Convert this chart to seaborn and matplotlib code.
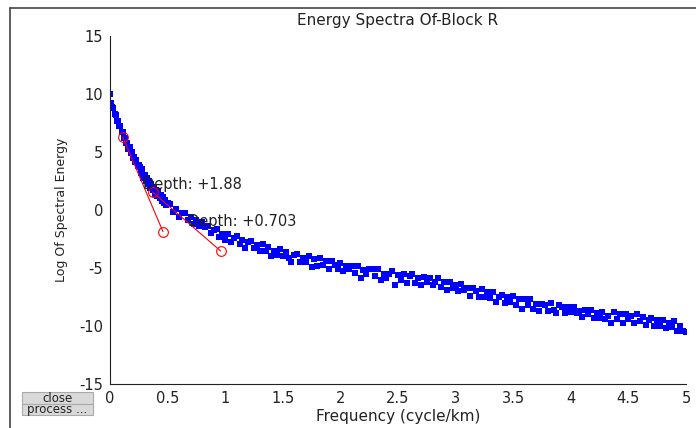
import numpy as np
import pandas as pd
import matplotlib
matplotlib.use("Agg")
import matplotlib.pyplot as plt
from matplotlib.patches import Rectangle
from matplotlib.lines import Line2D
import seaborn as sns

# spectrum samples (steep part, step 0.01)
near_freq = np.linspace(0, 0.5, 51)
near_energy = [10.0, 9.2, 8.9, 8.8, 8.3, 8.2, 7.7, 7.7, 7.2, 7.2,
               6.7, 6.7, 6.2, 6.2, 5.8, 5.8, 5.3, 5.4, 4.9, 5.0,
               4.5, 4.6, 4.1, 4.3, 3.8, 3.9, 3.7, 3.2, 3.5, 2.8,
               3.0, 2.5, 2.8, 2.2, 2.5, 1.9, 2.2, 1.7, 2.0, 1.4,
               1.7, 1.2, 1.6, 1.0, 1.3, 0.8, 1.1, 0.6, 0.9, 0.4, 0.6]

# flatter part, step 0.025
far_freq = np.linspace(0.525, 5.0, 180)
far_energy = [0.5, -0.2, 0.1, -0.6, -0.3, -0.3, -0.9, -0.6, -1.2, -0.9,
              -1.4, -1.0, -1.5, -1.4, -2.0, -1.7, -1.6, -2.3, -2.1, -2.6,
              -2.1, -2.8, -2.4, -2.2, -2.9, -2.6, -3.3, -2.8, -2.7, -3.3,
              -3.0, -3.5, -2.9, -3.5, -3.2, -4.0, -3.5, -3.9, -3.4, -4.0,
              -3.6, -4.1, -4.5, -3.9, -3.8, -4.5, -4.1, -4.5, -4.0, -4.9,
              -4.2, -4.8, -4.1, -4.7, -4.4, -5.1, -4.4, -4.7, -5.1, -4.6,
              -5.3, -4.8, -5.1, -4.8, -5.4, -4.8, -5.9, -5.2, -5.5, -5.1,
              -5.1, -5.7, -5.1, -6.0, -5.5, -5.9, -5.5, -5.3, -6.5, -5.6,
              -6.0, -5.5, -6.3, -5.7, -5.5, -6.3, -5.9, -6.5, -5.8, -6.2,
              -5.9, -6.5, -6.2, -5.9, -6.6, -6.2, -6.9, -6.2, -6.7, -6.5,
              -7.0, -6.4, -6.9, -6.7, -7.4, -6.7, -7.0, -7.5, -6.8, -7.5,
              -7.1, -7.6, -7.1, -7.9, -7.5, -7.3, -8.0, -7.5, -7.9, -7.4,
              -8.2, -7.7, -8.5, -7.7, -8.2, -7.7, -8.5, -8.1, -8.7, -8.1,
              -8.2, -8.7, -8.0, -8.6, -8.9, -8.2, -8.4, -8.9, -8.4, -8.8,
              -8.4, -8.9, -8.7, -9.2, -8.6, -9.0, -8.6, -9.3, -8.9, -9.3,
              -8.8, -9.4, -9.1, -9.7, -8.8, -9.4, -9.0, -9.7, -9.0, -9.4,
              -9.1, -9.7, -9.0, -9.6, -9.2, -9.9, -9.5, -9.3, -10.0, -9.5,
              -10.0, -9.5, -10.2, -9.7, -10.1, -9.6, -10.4, -10.0, -10.4, -10.5]

# the two fitted slope segments (end points)
fit1_freq = [0.11, 0.46]
fit1_energy = [6.3, -1.87]
fit2_freq = [0.37, 0.96]
fit2_energy = [1.55, -3.53]

xtick_vals = [0, 0.5, 1, 1.5, 2, 2.5, 3, 3.5, 4, 4.5, 5]
xtick_labels = ["0", "0.5", "1", "1.5", "2", "2.5", "3", "3.5", "4", "4.5", "5"]
ytick_vals = [-15, -10, -5, 0, 5, 10, 15]

df = pd.DataFrame({
    "freq": np.concatenate([near_freq, far_freq]),
    "energy": near_energy + far_energy,
})

sns.set_style("white")
plt.rcParams["font.family"] = ["DejaVu Sans"]
plt.rcParams["axes.unicode_minus"] = False

fig = plt.figure(figsize=(6.96, 4.28), dpi=100)
ax = fig.add_axes([110 / 696, 44 / 428, 576 / 696, 348 / 428])

sns.scatterplot(data=df, x="freq", y="energy", marker="s", s=21,
                color=(0, 0, 1), linewidth=0, ax=ax, zorder=2)

for fx, fy in [(fit1_freq, fit1_energy), (fit2_freq, fit2_energy)]:
    ax.plot(fx, fy, color="red", lw=0.8, marker="o", ms=7,
            mfc="none", mec="red", mew=0.8, zorder=3)

ax.text(0.29, 2.2, "Depth: +1.88", fontsize=10.5, va="center", color="#222222", zorder=4)
ax.text(0.68, -0.95, "Depth: +0.703", fontsize=10.5, va="center", color="#222222", zorder=4)

ax.set_xlim(0, 5)
ax.set_ylim(-15, 15)
ax.set_xticks(xtick_vals)
ax.set_xticklabels(xtick_labels)
ax.set_yticks(ytick_vals)
ax.tick_params(direction="in", length=4, width=0.8, labelsize=10.5,
               colors="#222222", pad=5)
for side in ["top", "right"]:
    ax.spines[side].set_visible(False)
for side in ["left", "bottom"]:
    ax.spines[side].set_color("#222222")
    ax.spines[side].set_linewidth(0.8)

ax.set_title("Energy Spectra Of-Block R", fontsize=11, pad=8, color="#222222")
ax.set_xlabel("Frequency (cycle/km)", fontsize=11, labelpad=2, color="#222222")
ax.set_ylabel("Log Of Spectral Energy", fontsize=9, labelpad=8, color="#222222")

# window frame
fig.add_artist(Line2D([10 / 696, 1], [1 - 8 / 428, 1 - 8 / 428],
                      transform=fig.transFigure, color="#444444", lw=1.2))
fig.add_artist(Line2D([10 / 696, 10 / 696], [0, 1 - 8 / 428],
                      transform=fig.transFigure, color="#444444", lw=1.2))

# the two gui buttons
for label, top, h in [("close", 392, 12), ("process ...", 404, 11)]:
    fig.add_artist(Rectangle((22 / 696, (428 - top - h) / 428), 71 / 696, h / 428,
                             transform=fig.transFigure, facecolor="#d9d9d9",
                             edgecolor="#aaaaaa", lw=0.8))
    fig.text(57.5 / 696, (428 - top - h / 2) / 428, label, fontsize=8.5,
             ha="center", va="center", color="#222222")

fig.savefig("out.png", dpi=100)
